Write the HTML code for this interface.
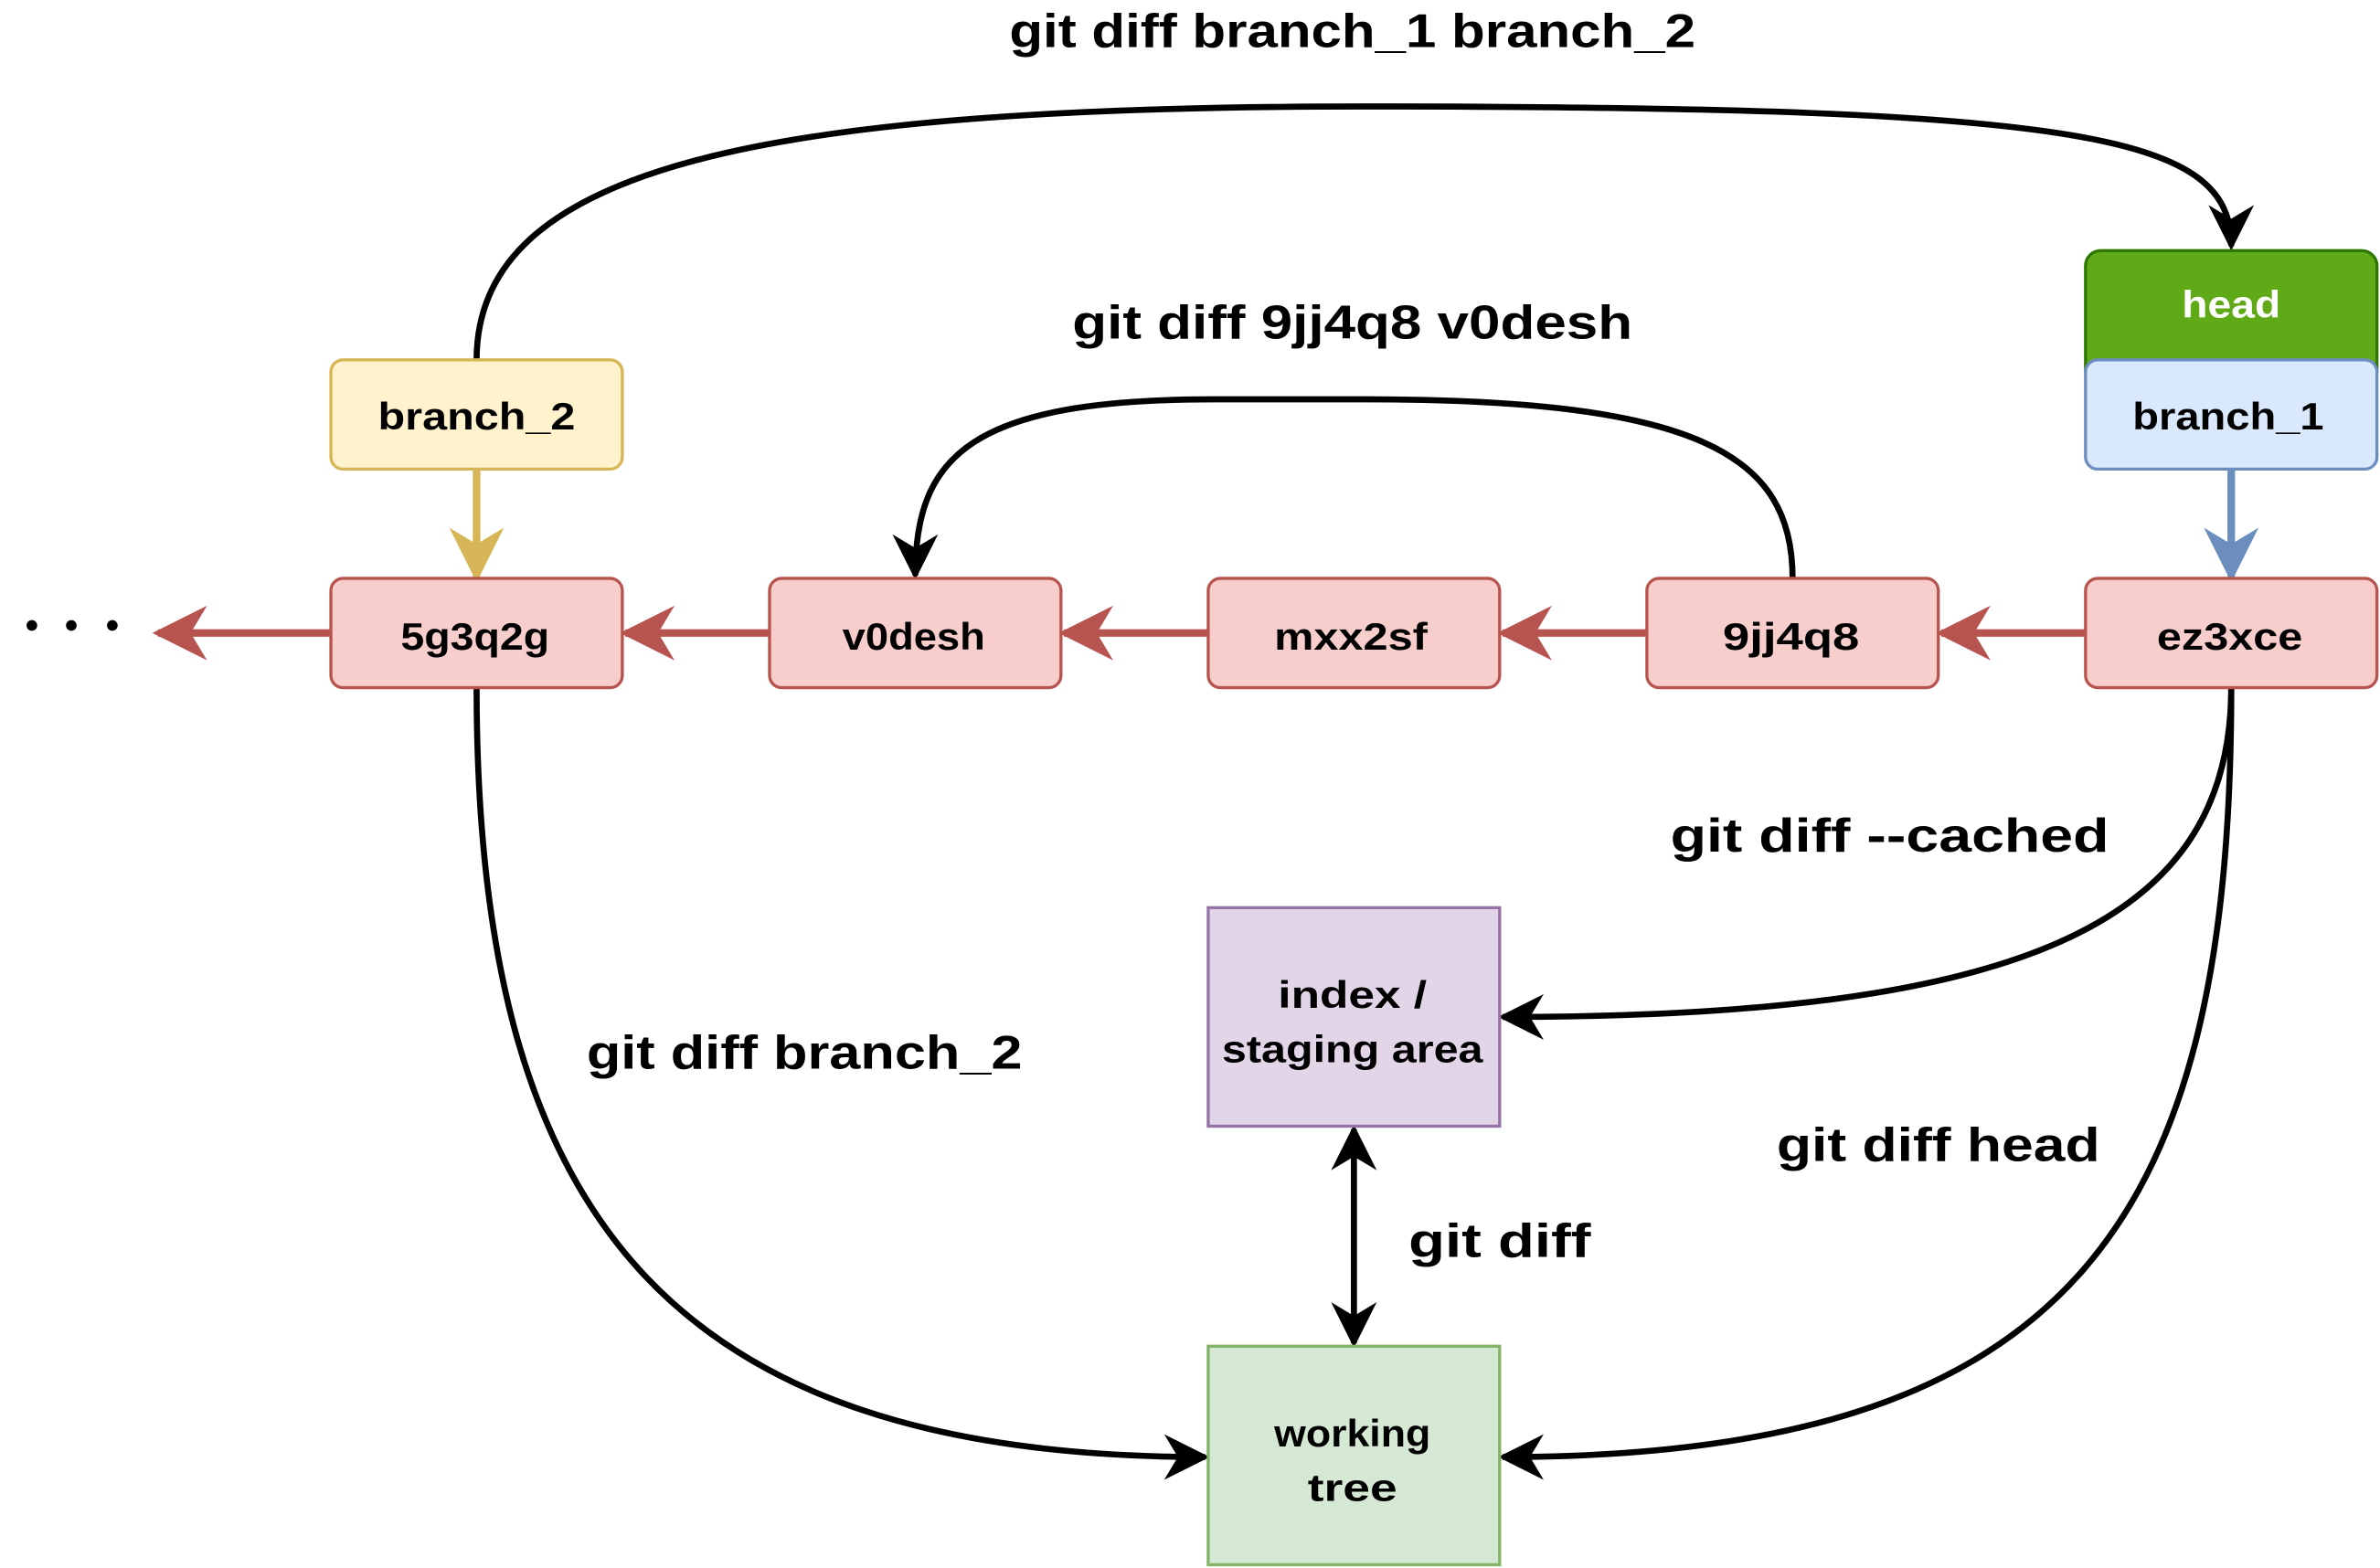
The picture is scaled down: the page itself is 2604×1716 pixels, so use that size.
<!DOCTYPE html>
<html><head><meta charset="utf-8"><style>
html,body{margin:0;padding:0;background:#fff;}
svg{display:block}
text{font-family:"Liberation Sans",sans-serif;font-weight:bold;}
</style></head><body>
<svg width="2604" height="1716" viewBox="0 0 1568 1033" xmlns="http://www.w3.org/2000/svg">
<defs>
<marker id="ar" viewBox="0 0 10 10" refX="9" refY="5" markerWidth="36" markerHeight="36" orient="auto" markerUnits="userSpaceOnUse"><path d="M0,0 L10,5 L0,10 L3,5 z" fill="#b85450"/></marker>
<marker id="ay" viewBox="0 0 10 10" refX="9" refY="5" markerWidth="36" markerHeight="36" orient="auto" markerUnits="userSpaceOnUse"><path d="M0,0 L10,5 L0,10 L3,5 z" fill="#d6b656"/></marker>
<marker id="abl" viewBox="0 0 10 10" refX="9" refY="5" markerWidth="36" markerHeight="36" orient="auto" markerUnits="userSpaceOnUse"><path d="M0,0 L10,5 L0,10 L3,5 z" fill="#6c8ebf"/></marker>
<marker id="k" viewBox="0 0 10 10" refX="9" refY="5" markerWidth="30" markerHeight="30" orient="auto-start-reverse" markerUnits="userSpaceOnUse"><path d="M0,0 L10,5 L0,10 L3,5 z" fill="#000"/></marker>
</defs>
<g fill="none" stroke="#000" stroke-width="4">
<path d="M314 237 C314 110 500 70 900 70 C1380 70 1470 90 1470 162" marker-end="url(#k)"/>
<path d="M1181 381 C1181 300 1120 263 900 263 L800 263 C640 263 603 300 603 379" marker-end="url(#k)"/>
<path d="M314 453 C314 800 440 960 794 960" marker-end="url(#k)"/>
<path d="M1470 453 C1470 610 1330 670 990 670" marker-end="url(#k)"/>
<path d="M1470 453 C1470 800 1370 960 990 960" marker-end="url(#k)"/>
<path d="M892 744 L892 885" marker-start="url(#k)" marker-end="url(#k)"/>
</g>
<g stroke="#b85450" stroke-width="5" fill="none">
<path d="M1374 417 L1279 417" marker-end="url(#ar)"/>
<path d="M1085 417 L990 417" marker-end="url(#ar)"/>
<path d="M796 417 L701 417" marker-end="url(#ar)"/>
<path d="M507 417 L412 417" marker-end="url(#ar)"/>
<path d="M218 417 L104 417" marker-end="url(#ar)"/>
</g>
<path d="M314 309 L314 380" stroke="#d6b656" stroke-width="5" marker-end="url(#ay)"/>
<path d="M1470 309 L1470 380" stroke="#6c8ebf" stroke-width="5" marker-end="url(#abl)"/>
<g fill="#000"><circle cx="21" cy="412" r="3.5"/><circle cx="47" cy="412" r="3.5"/><circle cx="74" cy="412" r="3.5"/></g>
<g stroke-width="2">
<rect x="1374" y="165" width="192" height="90" rx="10" fill="#60a917" stroke="#2d7600"/>
<rect x="218" y="237" width="192" height="72" rx="8" fill="#fff2cc" stroke="#d6b656"/>
<rect x="1374" y="237" width="192" height="72" rx="8" fill="#dae8fc" stroke="#6c8ebf"/>
<rect x="218" y="381" width="192" height="72" rx="8" fill="#f8cecc" stroke="#b85450"/>
<rect x="507" y="381" width="192" height="72" rx="8" fill="#f8cecc" stroke="#b85450"/>
<rect x="796" y="381" width="192" height="72" rx="8" fill="#f8cecc" stroke="#b85450"/>
<rect x="1085" y="381" width="192" height="72" rx="8" fill="#f8cecc" stroke="#b85450"/>
<rect x="1374" y="381" width="192" height="72" rx="8" fill="#f8cecc" stroke="#b85450"/>
<rect x="796" y="598" width="192" height="144" fill="#e1d5e7" stroke="#9673a6"/>
<rect x="796" y="887" width="192" height="144" fill="#d5e8d4" stroke="#82b366"/>
</g>
<g font-size="25" text-anchor="middle" fill="#000" lengthAdjust="spacingAndGlyphs">
<text x="1470" y="209" fill="#fff" textLength="65" lengthAdjust="spacingAndGlyphs">head</text>
<text x="314" y="283" textLength="130" lengthAdjust="spacingAndGlyphs">branch_2</text>
<text x="1468" y="283" textLength="126" lengthAdjust="spacingAndGlyphs">branch_1</text>
<text x="313" y="428" textLength="98" lengthAdjust="spacingAndGlyphs">5g3q2g</text>
<text x="602" y="428" textLength="94" lengthAdjust="spacingAndGlyphs">v0desh</text>
<text x="890" y="428" textLength="101" lengthAdjust="spacingAndGlyphs">mxx2sf</text>
<text x="1180" y="428" textLength="90" lengthAdjust="spacingAndGlyphs">9jj4q8</text>
<text x="1469" y="428" textLength="96" lengthAdjust="spacingAndGlyphs">ez3xce</text>
<text x="891" y="664" textLength="98" lengthAdjust="spacingAndGlyphs">index /</text>
<text x="891" y="700" textLength="172" lengthAdjust="spacingAndGlyphs">staging area</text>
<text x="891" y="953" textLength="103" lengthAdjust="spacingAndGlyphs">working</text>
<text x="891" y="989" textLength="59" lengthAdjust="spacingAndGlyphs">tree</text>
</g>
<g font-size="31" text-anchor="middle" fill="#000">
<text x="891" y="31" textLength="452" lengthAdjust="spacingAndGlyphs">git diff branch_1 branch_2</text>
<text x="891" y="223" textLength="369" lengthAdjust="spacingAndGlyphs">git diff 9jj4q8 v0desh</text>
<text x="1245" y="561" textLength="289" lengthAdjust="spacingAndGlyphs">git diff --cached</text>
<text x="530" y="704" textLength="287" lengthAdjust="spacingAndGlyphs">git diff branch_2</text>
<text x="1277" y="765" textLength="213" lengthAdjust="spacingAndGlyphs">git diff head</text>
<text x="988" y="828" textLength="120" lengthAdjust="spacingAndGlyphs">git diff</text>
</g>
</svg>
</body></html>
